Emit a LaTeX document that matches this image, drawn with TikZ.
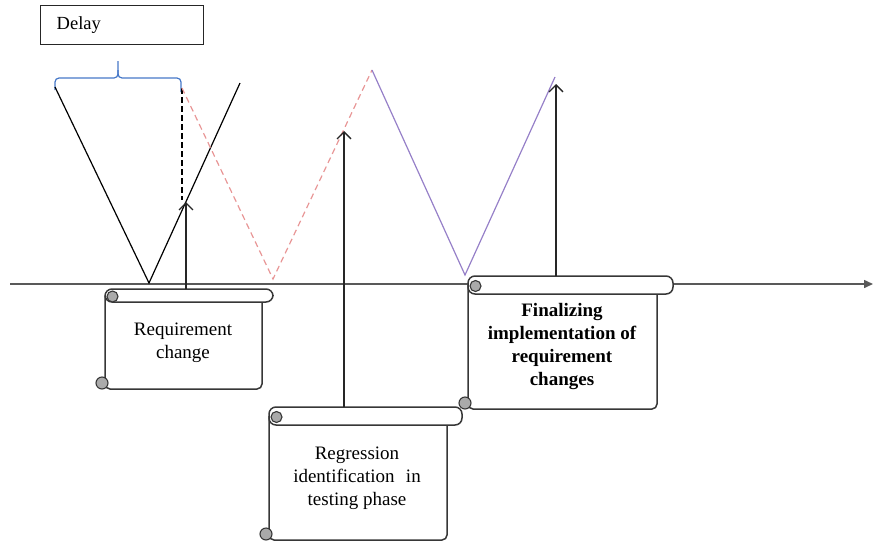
\documentclass[tikz,border=0pt]{standalone}
\usepackage{fontspec}
\setmainfont{Liberation Serif}
\usetikzlibrary{arrows.meta}

\definecolor{bracecol}{RGB}{70,120,200}
\definecolor{pinkcol}{RGB}{232,150,150}
\definecolor{purplecol}{RGB}{150,128,200}
\definecolor{edgecol}{RGB}{55,55,55}
\definecolor{curlcol}{RGB}{170,170,170}

\tikzset{
  scrolline/.style={draw=edgecol, line width=1.5pt},
  curl/.style={draw=edgecol, fill=curlcol, line width=1.1pt},
  label/.style={align=center, font=\fontsize{19}{23}\selectfont, inner sep=0pt},
  uparrow/.style={draw=black!85, line width=1.3pt, -{Straight Barb[length=7pt,width=14pt,line width=1.3pt]}},
  axis/.style={draw=black!65, line width=1.5pt, -{Triangle[length=9pt,width=8pt]}},
  vline/.style={draw=black, line width=1.2pt},
}

% Horizontal scroll: left, top, roll end, roll height, body right, bottom
\newcommand{\scrollshape}[6]{%
  \filldraw[scrolline, fill=white, rounded corners=5pt]
    ({#1},{#2+#4/2}) -- ({#1},{#6}) -- ({#5},{#6}) -- ({#5},{#2+#4});
  \filldraw[scrolline, fill=white, rounded corners=7pt]
    ({#1},{#2}) rectangle ({#3},{#2+#4});
  \filldraw[curl] ({#1+7.5},{#2+#4/2+1}) circle (5.5pt);
  \filldraw[curl] ({#1-3},{#6-6}) circle (6pt);
}

\begin{document}
\begin{tikzpicture}[x=1pt, y=-1pt]
\useasboundingbox (0,0) rectangle (877,544);

% key points of the zig-zag
\coordinate (v1a) at (55,87);
\coordinate (v1b) at (149,283);
\coordinate (v1c) at (240,83);
\coordinate (p0) at (182,88);
\coordinate (p1) at (273,279);
\coordinate (p2) at (372,70);
\coordinate (q1) at (465,275);
\coordinate (q2) at (555,77);
\coordinate (d0) at (182,200);

% time axis
\coordinate (ax0) at (10,284);
\coordinate (ax1) at (873,284);
\draw[axis] (ax0) -- (ax1);

% delay label and brace
\node[draw=black!85, line width=1.4pt, anchor=north west, minimum width=163pt,
      minimum height=39pt, text width=131pt, inner xsep=16pt, inner ysep=0pt,
      align=left, font=\fontsize{18.5}{22}\selectfont] (delay) at (40,5) {Delay};
\coordinate (bl) at (55,90);
\coordinate (bm) at (118,78);
\coordinate (bt) at (118,61);
\coordinate (br) at (181,92);
\draw[bracecol, line width=1.2pt, rounded corners=4pt] (bl) -- (55,78) -- (bm) -- (bt);
\draw[bracecol, line width=1.2pt, rounded corners=4pt] (br) -- (181,78) -- (bm) -- (118,70);

% first cycle
\draw[vline] (v1a) -- (v1b) -- (v1c);
\draw[vline, dash pattern=on 6pt off 3pt] (p0) -- (d0);

% second cycle
\draw[pinkcol, line width=1.2pt, dash pattern=on 6pt off 4pt] (p0) -- (p1) -- (p2);

% third cycle
\draw[purplecol, line width=1.2pt] (p2) -- (q1) -- (q2);

% scrolls
\scrollshape{105}{289}{273}{13}{262}{389}
\node[label] (req) at (183,343) {Requirement\\change};

\scrollshape{269}{407}{462}{18}{447}{540}
\node[label] (reg) at (357,478) {Regression\\identification\hspace{0.35em} in\\testing phase};

\scrollshape{468}{276}{673}{18}{657}{409}
\node[label, font=\fontsize{19}{23}\selectfont\bfseries] (fin) at (562,346)
  {Finalizing\\implementation of\\requirement\\changes};

% arrows from each event up to the cycle
\coordinate (a1s) at (186,289);
\coordinate (a1e) at (186,202);
\coordinate (a2s) at (344,407);
\coordinate (a2e) at (344,131);
\coordinate (a3s) at (556,276);
\coordinate (a3e) at (556,84);
\draw[uparrow] (a1s) -- (a1e);
\draw[uparrow] (a2s) -- (a2e);
\draw[uparrow] (a3s) -- (a3e);
\end{tikzpicture}
\end{document}
